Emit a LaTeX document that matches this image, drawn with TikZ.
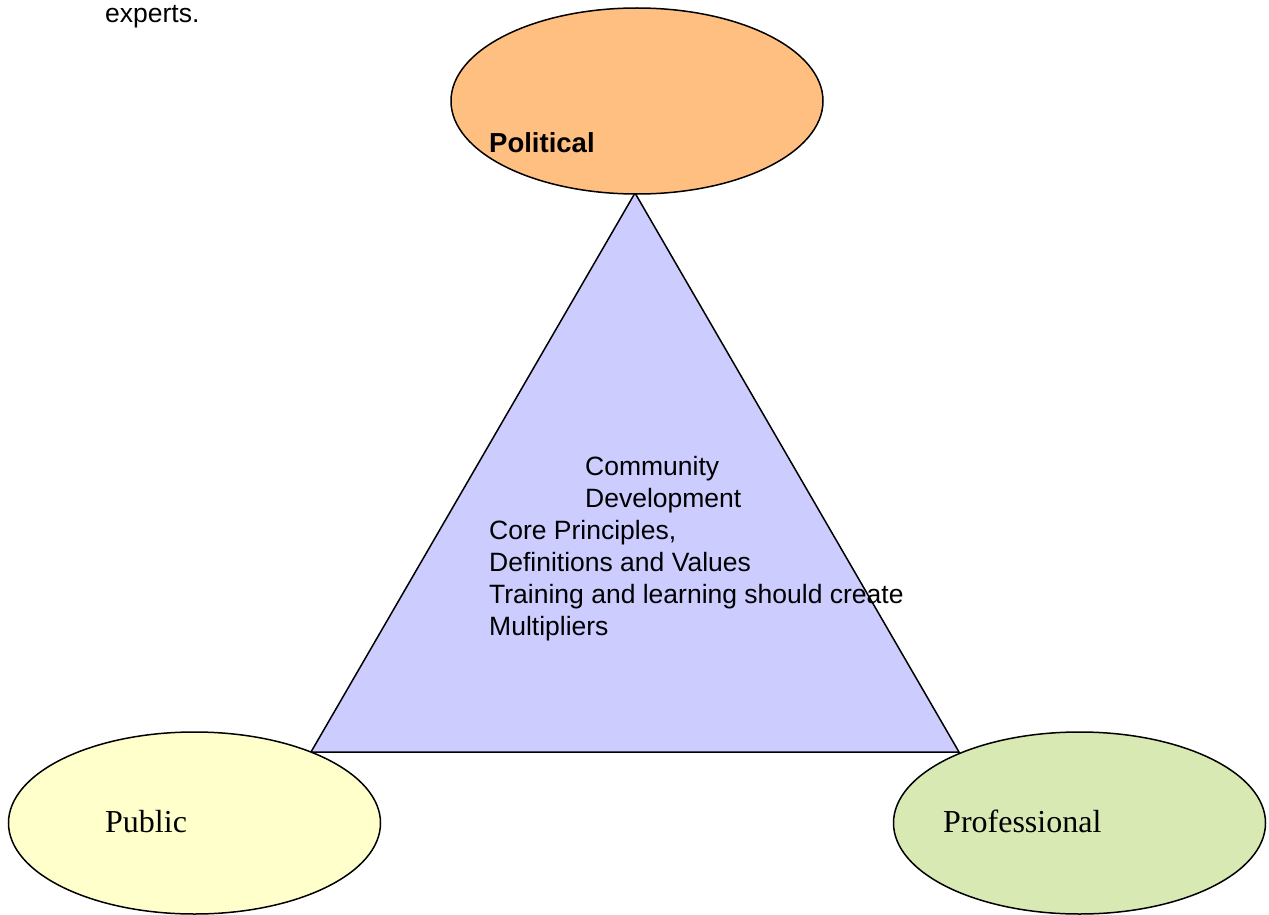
\documentclass[tikz,border=0pt]{standalone}
\usepackage{fontspec}
\setmainfont{Liberation Serif}
\newfontfamily\uifont{Liberation Sans}
\usetikzlibrary{shapes.geometric}
\definecolor{polfill}{RGB}{255,191,128}
\definecolor{trifill}{RGB}{204,204,255}
\definecolor{pubfill}{RGB}{255,255,204}
\definecolor{profill}{RGB}{216,233,180}
\tikzset{
  oval/.style={ellipse, draw=black, line width=1.5pt, minimum width=372pt, minimum height=186pt, inner sep=0pt},
  bodytext/.style={anchor=base west, inner sep=0pt, font=\uifont\fontsize{26.5}{32}\selectfont},
  serifword/.style={anchor=base west, inner sep=0pt, font=\fontsize{32}{38}\selectfont},
}
\begin{document}
\begin{tikzpicture}[x=1pt,y=-1pt]
\useasboundingbox (0,0) rectangle (1269,915);
% triangle
\coordinate (apex) at (635,193);
\coordinate (bl) at (311,752);
\coordinate (br) at (959,752);
\path[fill=trifill, draw=black, line width=1.5pt, line join=miter] (apex) -- (bl) -- (br) -- cycle;
% ellipses
\node[oval, fill=polfill] (political) at (637,101) {};
\node[oval, fill=pubfill, minimum height=182pt] (public) at (194.5,823) {};
\node[oval, fill=profill, minimum height=182pt] (professional) at (1079.5,823) {};
% labels
\node[bodytext] (experts) at (105,23) {experts.};
\node[bodytext, font=\uifont\bfseries\fontsize{27.5}{32}\selectfont] (polt) at (489,153) {Political};
\node[serifword] (pubt) at (105,832) {Public};
\node[serifword] (prot) at (943,832) {Professional};
\node[bodytext] (l1) at (585,475) {Community};
\node[bodytext] (l2) at (585,507) {Development};
\node[bodytext] (l3) at (489,539) {Core Principles,};
\node[bodytext] (l4) at (489,571) {Definitions and Values};
\node[bodytext] (l5) at (489,603) {Training and learning should create};
\node[bodytext] (l6) at (489,635) {Multipliers};
\end{tikzpicture}
\end{document}
